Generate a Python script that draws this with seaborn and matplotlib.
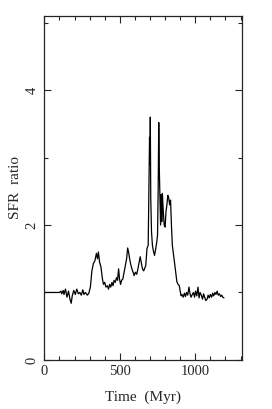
import numpy as np
import pandas as pd
import seaborn as sns
import matplotlib
matplotlib.use('Agg')
import matplotlib.pyplot as plt
from matplotlib.ticker import MultipleLocator

# data
time_myr = [0, 95, 100, 110, 115, 125, 130, 140, 150, 160, 170, 178, 185, 195, 205, 215,
            225, 235, 245, 255, 262, 272, 285, 295, 305, 315, 325, 335, 345, 352, 358,
            366, 375, 385, 392, 400, 408, 418, 425, 433, 440, 448, 455, 462, 470, 478,
            485, 492, 498, 505, 512, 520, 528, 535, 545, 552, 558, 565, 572, 580, 588,
            595, 603, 612, 620, 628, 635, 642, 650, 658, 665, 672, 680, 688, 693, 697,
            700, 702, 705, 710, 716, 722, 730, 738, 745, 750, 754, 758, 762, 766, 770,
            774, 778, 782, 788, 794, 800, 806, 812, 818, 824, 830, 836, 842, 848, 855,
            862, 870, 878, 886, 894, 900, 906, 912, 920, 928, 935, 942, 950, 958, 965,
            972, 980, 988, 995, 1002, 1010, 1018, 1025, 1032, 1040, 1048, 1055, 1062,
            1070, 1078, 1085, 1092, 1100, 1108, 1115, 1122, 1130, 1137, 1145, 1152, 1160,
            1168, 1175, 1182, 1190]
sfr_ratio = [1.0, 1.0, 1.0, 1.02, 0.98, 1.03, 0.97, 1.05, 0.93, 1.02, 0.9, 0.84, 0.95, 1.03,
             0.97, 1.05, 0.98, 1.0, 0.96, 1.04, 0.97, 1.0, 0.96, 0.99, 1.08, 1.32, 1.43,
             1.47, 1.58, 1.5, 1.6, 1.45, 1.38, 1.2, 1.12, 1.15, 1.08, 1.1, 1.05, 1.12, 1.08,
             1.15, 1.1, 1.18, 1.15, 1.22, 1.18, 1.35, 1.2, 1.12, 1.18, 1.2, 1.3, 1.38, 1.5,
             1.66, 1.6, 1.5, 1.42, 1.35, 1.3, 1.25, 1.3, 1.27, 1.35, 1.45, 1.53, 1.45, 1.35,
             1.32, 1.36, 1.4, 1.65, 1.7, 2.6, 3.3, 2.9, 3.6, 2.4, 1.9, 1.7, 1.62, 1.55, 1.65,
             1.75, 1.85, 2.5, 3.52, 2.8, 2.4, 2.0, 2.45, 2.05, 2.47, 2.2, 2.0, 1.97, 2.2, 2.3,
             2.44, 2.4, 2.3, 2.37, 2.0, 1.7, 1.58, 1.45, 1.3, 1.16, 1.12, 1.1, 1.02, 0.95,
             0.97, 0.93, 0.99, 0.94, 1.0, 0.96, 1.08, 0.98, 0.93, 0.97, 1.0, 0.93, 1.02, 0.95,
             1.08, 0.92, 1.0, 0.96, 0.9, 0.98, 0.93, 0.88, 0.9, 0.96, 0.92, 0.97, 0.93, 0.99,
             0.95, 1.0, 0.97, 1.02, 0.96, 0.98, 0.94, 0.96, 0.93, 0.92]

df = pd.DataFrame({'time': time_myr, 'sfr': sfr_ratio})

sns.set_style('ticks')
plt.rcParams['font.family'] = ['Liberation Serif', 'DejaVu Serif']

fig = plt.figure(figsize=(2.72, 4.09), dpi=100)
ax = fig.add_axes([0.163, 0.12, 0.727, 0.841])
sns.lineplot(data=df, x='time', y='sfr', color='black', linewidth=0.9, ax=ax)

ax.set_xlim(0, 1310)
ax.set_ylim(0, 5.1)
ax.xaxis.set_major_locator(MultipleLocator(500))
ax.xaxis.set_minor_locator(MultipleLocator(100))
ax.yaxis.set_major_locator(MultipleLocator(2))
ax.yaxis.set_minor_locator(MultipleLocator(1))
ax.tick_params(which='both', direction='in', top=True, right=True, labelsize=10.5, width=0.8)
ax.tick_params(which='major', length=5, pad=4)
ax.tick_params(which='minor', length=3)
for lbl in ax.get_yticklabels():
    lbl.set_rotation(90)
    lbl.set_va('center')
for sp in ax.spines.values():
    sp.set_linewidth(0.9)

ax.set_xlabel('Time  (Myr)', fontsize=11, labelpad=9)
ax.set_ylabel('SFR  ratio', fontsize=11, labelpad=3)

fig.savefig('out.png', dpi=100)
